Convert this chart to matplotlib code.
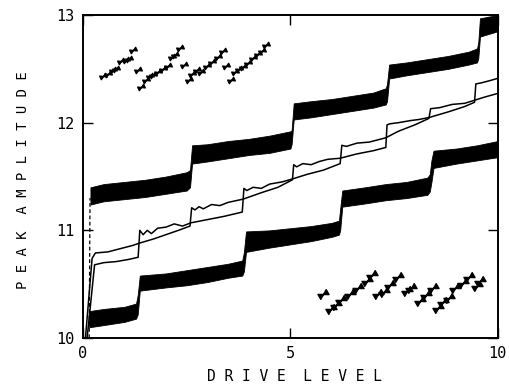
import numpy as np
import matplotlib
matplotlib.use("Agg")
import matplotlib.pyplot as plt
from matplotlib.path import Path

plt.rcParams['font.family'] = ['DejaVu Sans Mono']

# noisy bands: x positions with upper and lower edge of the trace
upper_band_x = [0.18, 0.5, 1.0, 1.5, 2.0, 2.5, 2.58, 2.63, 3.0, 3.5, 4.0, 4.5, 5.0, 5.03,
                5.08, 5.5, 6.0, 6.5, 7.0, 7.3, 7.33, 7.38, 7.8, 8.3, 8.8, 9.3, 9.5, 9.53, 9.57, 10.0]
upper_band_top = [11.40, 11.43, 11.45, 11.47, 11.50, 11.54, 11.56, 11.79, 11.80, 11.83, 11.85, 11.88, 11.92, 11.93,
                  12.18, 12.20, 12.22, 12.25, 12.28, 12.32, 12.36, 12.54, 12.56, 12.59, 12.62, 12.66, 12.69, 12.75, 12.97, 13.0]
upper_band_bot = [11.24, 11.27, 11.29, 11.31, 11.34, 11.37, 11.40, 11.62, 11.64, 11.67, 11.70, 11.72, 11.76, 11.80,
                  12.03, 12.05, 12.08, 12.11, 12.14, 12.17, 12.20, 12.41, 12.44, 12.47, 12.50, 12.54, 12.56, 12.60, 12.80, 12.85]

lower_band_x = [0.15, 0.5, 1.0, 1.28, 1.32, 1.37, 2.0, 2.5, 3.0, 3.5, 3.84, 3.88, 3.93, 4.5, 5.0,
                5.5, 6.0, 6.17, 6.2, 6.25, 6.8, 7.3, 7.8, 8.3, 8.36, 8.4, 8.45, 9.0, 9.5, 10.0]
lower_band_top = [10.25, 10.27, 10.29, 10.32, 10.40, 10.58, 10.60, 10.63, 10.66, 10.69, 10.72, 10.80, 10.99, 11.0, 11.02,
                  11.04, 11.07, 11.09, 11.20, 11.37, 11.40, 11.43, 11.45, 11.49, 11.52, 11.65, 11.74, 11.76, 11.79, 11.83]
lower_band_bot = [10.10, 10.12, 10.15, 10.18, 10.22, 10.44, 10.47, 10.49, 10.52, 10.56, 10.58, 10.62, 10.80, 10.84, 10.87,
                  10.90, 10.94, 10.96, 11.00, 11.22, 11.25, 11.28, 11.30, 11.33, 11.36, 11.45, 11.58, 11.62, 11.65, 11.68]

# thin traces
trace1_x = [0.06, 0.22, 0.3, 0.6, 0.9, 1.2, 1.35, 1.7, 2.0, 2.3, 2.58,
            2.62, 2.7, 2.8, 2.9, 3.1, 3.3, 3.5, 3.86, 4.3, 4.7, 5.05,
            5.08, 5.15, 5.3, 5.5, 5.7, 5.9, 6.2, 6.6, 7.0, 7.3,
            7.33, 7.4, 7.6, 7.9, 8.1, 8.36, 8.8, 9.2, 9.44, 9.47, 9.6, 9.8, 9.98]
trace1_y = [10.0, 10.74, 10.79, 10.80, 10.83, 10.86, 10.88, 10.92, 10.96, 11.0, 11.04,
            11.21, 11.19, 11.22, 11.20, 11.24, 11.23, 11.26, 11.29, 11.35, 11.40, 11.47,
            11.61, 11.59, 11.62, 11.61, 11.64, 11.66, 11.67, 11.71, 11.74, 11.77,
            11.98, 11.99, 12.0, 12.02, 12.03, 12.05, 12.10, 12.15, 12.19, 12.36, 12.37, 12.39, 12.41]

trace2_x = [0.1, 0.28, 0.5, 0.8, 1.1, 1.33, 1.37, 1.45, 1.55, 1.65, 1.8, 2.0, 2.2, 2.4, 2.6,
            3.0, 3.4, 3.84, 3.88, 3.95, 4.1, 4.3, 4.5, 4.8, 5.07, 5.4, 5.8, 6.2,
            6.24, 6.35, 6.6, 6.9, 7.1, 7.3, 7.6, 8.0, 8.34, 8.38, 8.6, 8.9, 9.2, 9.45, 9.7, 9.98]
trace2_y = [10.0, 10.68, 10.70, 10.71, 10.73, 10.75, 11.0, 10.96, 11.0, 10.97, 11.02, 11.03, 11.06, 11.04, 11.07,
            11.10, 11.13, 11.17, 11.39, 11.37, 11.40, 11.39, 11.43, 11.45, 11.48, 11.52, 11.56, 11.62,
            11.79, 11.78, 11.81, 11.82, 11.84, 11.86, 11.92, 11.98, 12.04, 12.13, 12.14, 12.17, 12.18, 12.21, 12.24, 12.27]

# dashed rise at the start
rise_x = [0.15, 0.17]
rise_y = [10.0, 11.3]

# sawtooth point sets
saw_top_x = [0.49, 0.61, 0.73, 0.79, 0.92, 1.03, 1.11, 1.21, 1.32, 1.41,
             1.51, 1.61, 1.70, 1.81, 1.94, 2.04, 2.15, 2.23, 2.34, 2.44, 2.55,
             2.63, 2.74, 2.84, 2.98, 3.10, 3.25, 3.38, 3.46, 3.57,
             3.66, 3.76, 3.86, 3.98, 4.10, 4.22, 4.31, 4.41]
saw_top_y = [12.43, 12.45, 12.49, 12.50, 12.57, 12.58, 12.59, 12.68, 12.49, 12.33,
             12.40, 12.43, 12.44, 12.47, 12.50, 12.53, 12.61, 12.63, 12.69, 12.54, 12.40,
             12.45, 12.49, 12.47, 12.53, 12.56, 12.61, 12.67, 12.53, 12.40,
             12.47, 12.50, 12.52, 12.55, 12.60, 12.64, 12.67, 12.72]

saw_bot_x = [5.78, 5.99, 6.10, 6.23, 6.43, 6.63, 6.84, 6.96, 7.12, 7.25, 7.40, 7.60,
             7.80, 7.90, 8.12, 8.28, 8.43, 8.56, 8.68, 8.83, 8.96, 9.15, 9.31, 9.49, 9.58]
saw_bot_y = [10.41, 10.27, 10.31, 10.35, 10.41, 10.46, 10.53, 10.59, 10.41, 10.43, 10.49, 10.57,
             10.44, 10.46, 10.34, 10.40, 10.46, 10.28, 10.33, 10.37, 10.46, 10.51, 10.57, 10.48, 10.53]

x_ticks = [0, 5, 10]
y_ticks = [10, 11, 12, 13]


def bowtie(angle):
    a = np.deg2rad(angle)
    pts = np.array([(-1, 0.6), (-1, -0.6), (1, 0.6), (1, -0.6), (-1, 0.6)])
    rot = np.array([[np.cos(a), -np.sin(a)], [np.sin(a), np.cos(a)]])
    pts = pts @ rot.T
    codes = [Path.MOVETO, Path.LINETO, Path.LINETO, Path.LINETO, Path.CLOSEPOLY]
    return Path(pts, codes)


fig = plt.figure(figsize=(5.09, 3.91), dpi=100)
ax = fig.add_axes([0.163, 0.1355, 0.815, 0.826])

ax.fill_between(upper_band_x, upper_band_bot, upper_band_top, color='black', lw=0.6)
ax.fill_between(lower_band_x, lower_band_bot, lower_band_top, color='black', lw=0.6)
ax.plot(trace1_x, trace1_y, color='black', lw=1.1)
ax.plot(trace2_x, trace2_y, color='black', lw=1.1)
ax.plot(rise_x, rise_y, color='black', lw=0.9, ls=(0, (3, 2)))

ax.plot(saw_top_x, saw_top_y, ls='none', marker=bowtie(25), ms=5.5, color='black')
ax.plot(saw_bot_x, saw_bot_y, ls='none', marker=bowtie(30), ms=8, color='black')

ax.set_xlim(0, 10)
ax.set_ylim(10, 13)
ax.set_xticks(x_ticks)
ax.set_yticks(y_ticks)
ax.tick_params(direction='in', length=7, width=1, top=True, right=True,
               labelsize=11, pad=6)
for s in ax.spines.values():
    s.set_linewidth(1.4)

ax.set_xlabel('D R I V E  L E V E L', fontsize=10.5)
ax.set_ylabel('P E A K  A M P L I T U D E', fontsize=10)
ax.xaxis.set_label_coords(0.51, -0.095)
ax.yaxis.set_label_coords(-0.127, 0.49)

fig.savefig('out.png', dpi=100)
